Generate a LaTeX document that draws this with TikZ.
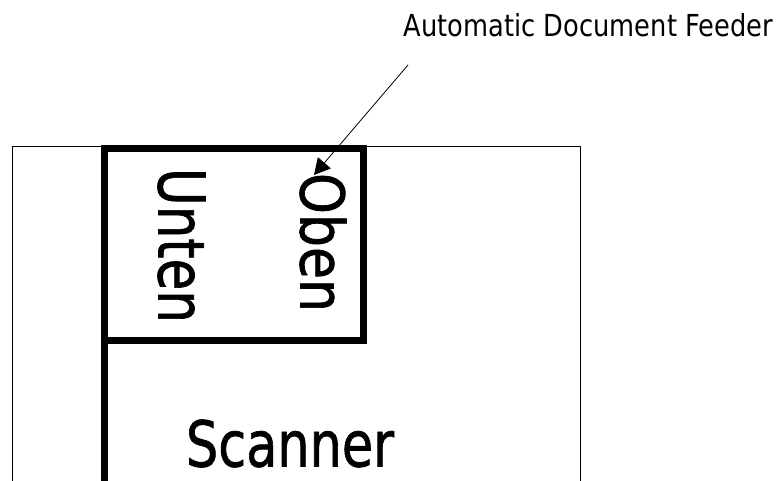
\documentclass[tikz,border=0pt]{standalone}
\usepackage{fontspec}
\setmainfont{DejaVu Sans}
\newfontfamily\heavyfont[FakeBold=1.2]{DejaVu Sans}
\usepackage{graphicx}
\usetikzlibrary{arrows.meta}
\tikzset{
  thin frame/.style={draw=black, line width=1pt},
  thick frame/.style={draw=black, line width=7pt},
  lbl/.style={inner sep=0pt, outer sep=0pt, text=black, font=\heavyfont},
  small lbl/.style={inner sep=0pt, outer sep=0pt, text=black, font=\normalfont},
  pointer/.style={draw=black, line width=0.8pt, -{Triangle[length=16pt,width=17pt]}}
}
\begin{document}
\begin{tikzpicture}[x=1pt,y=1pt]
\clip (0,0) rectangle (781,481);
\fill[white] (0,0) rectangle (781,481);
% scanner body
\draw[thin frame] (12,-10) -- (12,334) -- (580,334) -- (580,-10);
% ADF box
\draw[thick frame] (104,140) rectangle (363,332);
\draw[thick frame] (104,140) -- (104,-10);
% labels
\node[lbl] (unten) at (181.5,235.5) {\rotatebox{-90}{\resizebox{155pt}{47pt}{Unten}}};
\node[lbl] (oben) at (323,238.5) {\rotatebox{-90}{\resizebox{139pt}{46pt}{Oben}}};
\node[lbl] (scanner) at (290,37.5) {\resizebox{208pt}{47pt}{Scanner}};
\node[small lbl] (adf) at (588.5,455.5) {\resizebox{369pt}{23pt}{Automatic Document Feeder}};
% pointer
\coordinate (arrstart) at (408,416);
\coordinate (arrtip) at (314,306);
\draw[pointer] (arrstart) -- (arrtip);
\end{tikzpicture}
\end{document}
